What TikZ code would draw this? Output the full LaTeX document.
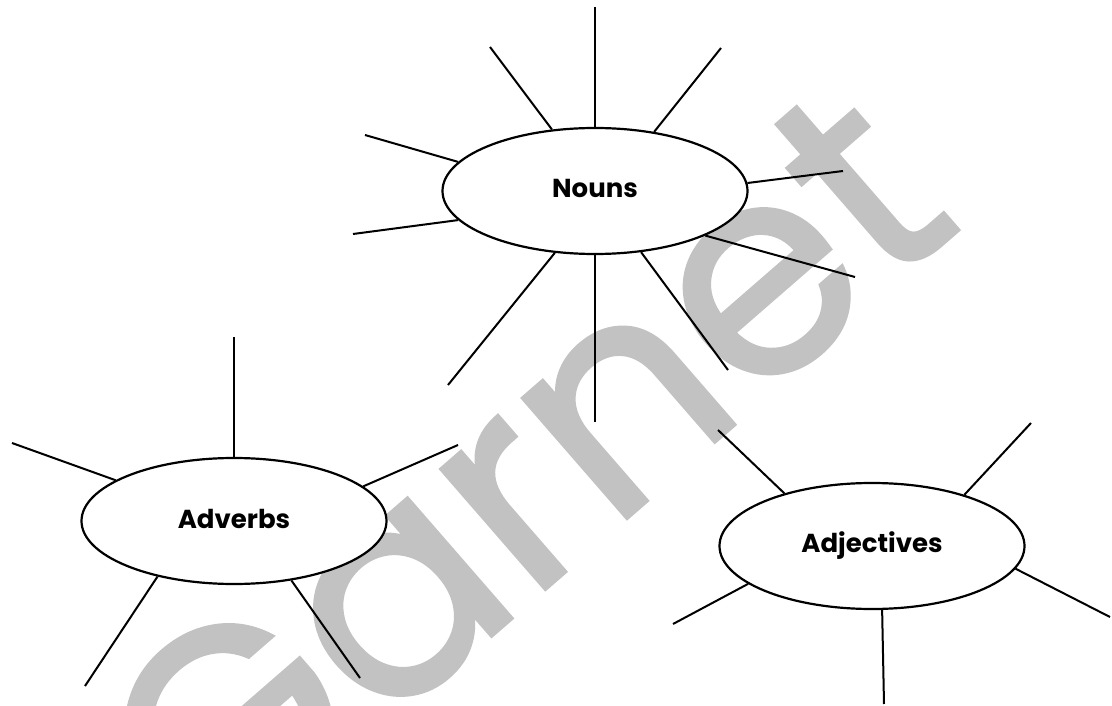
\documentclass[tikz,border=0pt]{standalone}
\usepackage{fontspec}
\setmainfont{Poppins}
\newfontfamily\wmfont{Poppins}[FakeBold=1.3]
\usetikzlibrary{shapes.geometric}
\begin{document}
\begin{tikzpicture}[x=1pt,y=-1pt,
  bubble/.style={draw=black, line width=2.2pt, ellipse, fill=white,
    minimum width=305pt, minimum height=126pt, inner sep=0pt,
    font=\bfseries\fontsize{26}{30}\selectfont},
  spoke/.style={draw=black, line width=2pt},
  wm/.style={text=black!24, inner sep=0pt, anchor=base,
    font=\wmfont\fontsize{290}{300}\selectfont, rotate=41}]
\useasboundingbox (0,0) rectangle (1112,706);
\fill[white] (0,0) rectangle (1112,706);

% watermark
\node[wm] (wmark) at (588,552) {Garnet};

% nodes
\node[bubble] (nouns) at (595,191) {\raisebox{5pt}{Nouns}};
\node[bubble] (adverbs) at (234,521) {\raisebox{5pt}{Adverbs}};
\node[bubble] (adjectives) at (872,546) {Adjectives};

% outer ends of spokes
\coordinate (n1) at (595,7);
\coordinate (n2) at (490,47);
\coordinate (n3) at (721,48);
\coordinate (n4) at (365,135);
\coordinate (n5) at (353,234);
\coordinate (n6) at (843,171);
\coordinate (n7) at (855,277);
\coordinate (n8) at (448,385);
\coordinate (n9) at (595,422);
\coordinate (n10) at (728,370);

\coordinate (v1) at (234,337);
\coordinate (v2) at (12,443);
\coordinate (v3) at (458,445);
\coordinate (v4) at (85,686);
\coordinate (v5) at (360,678);

\coordinate (j1) at (718,430);
\coordinate (j2) at (1031,423);
\coordinate (j3) at (1110,617);
\coordinate (j4) at (673,624);
\coordinate (j5) at (884,704);

% spokes
\draw[spoke] (n1) -- (nouns.90);
\draw[spoke] (n2) -- (nouns.125);
\draw[spoke] (n3) -- (nouns.45);
\draw[spoke] (n4) -- (nouns.168.4);
\draw[spoke] (n5) -- (nouns.192.1);
\draw[spoke] (n6) -- (nouns.3.1);
\draw[spoke] (n7) -- (nouns.338.2);
\draw[spoke] (n8) -- (nouns.237.2);
\draw[spoke] (n9) -- (nouns.270);
\draw[spoke] (n10) -- (nouns.307.7);

\draw[spoke] (v1) -- (adverbs.90);
\draw[spoke] (v2) -- (adverbs.161.6);
\draw[spoke] (v3) -- (adverbs.15.2);
\draw[spoke] (v4) -- (adverbs.216.1);
\draw[spoke] (v5) -- (adverbs.314);

\draw[spoke] (j1) -- (adjectives.149.1);
\draw[spoke] (j2) -- (adjectives.29.4);
\draw[spoke] (j3) -- (adjectives.351.8);
\draw[spoke] (j4) -- (adjectives.197.7);
\draw[spoke] (j5) -- (adjectives.279);
\end{tikzpicture}
\end{document}
